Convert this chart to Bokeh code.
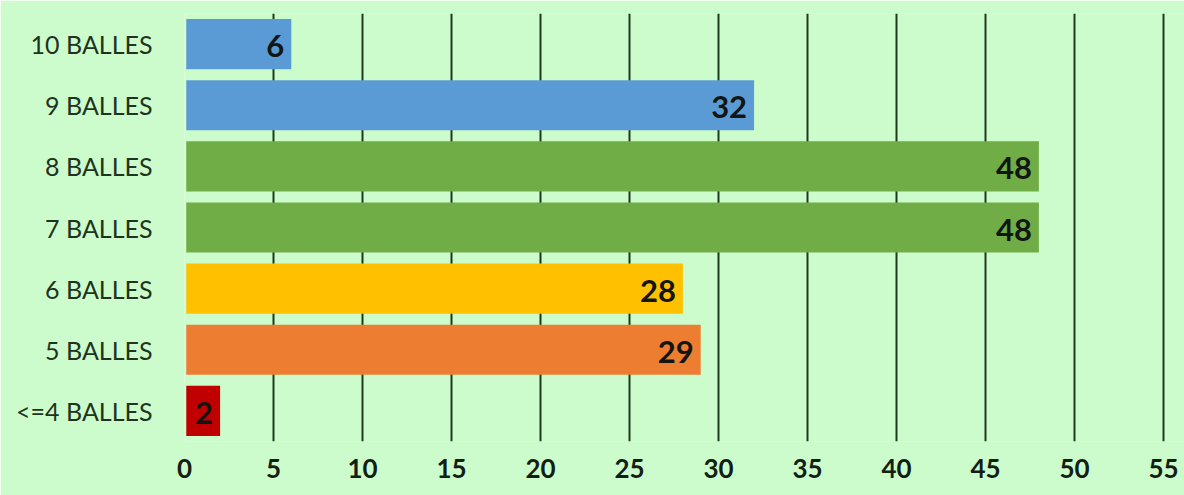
from bokeh.plotting import figure
from bokeh.models import ColumnDataSource, FactorRange, Range1d, FixedTicker
from bokeh.core.properties import value
from bokeh.embed import file_html
from bokeh.resources import INLINE

categories = ["<=4 BALLES", "5 BALLES", "6 BALLES", "7 BALLES", "8 BALLES", "9 BALLES", "10 BALLES"]
counts = [2, 29, 28, 48, 48, 32, 6]
colors = ["#c00000", "#ed7d31", "#ffc000", "#70ad47", "#70ad47", "#5b9bd5", "#5b9bd5"]
x_ticks = [0, 5, 10, 15, 20, 25, 30, 35, 40, 45, 50, 55]

BG = "#ccfccc"
FONT = "Lato"

src = ColumnDataSource(dict(cat=categories, val=counts, color=colors,
                            label=[str(v) for v in counts]))

p = figure(width=1184, height=495, output_backend="svg", toolbar_location=None,
           y_range=FactorRange(*categories, range_padding=0),
           x_range=Range1d(0, 56.18),
           min_border_left=184, min_border_right=0, min_border_top=13, min_border_bottom=54)
p.background_fill_color = BG
p.border_fill_color = BG
p.outline_line_color = None

p.hbar(y="cat", right="val", left=0.1, height=0.82, color="color", line_color=None, source=src)
p.text(x="val", y="cat", text="label", source=src, x_offset=-7, y_offset=2,
       text_align="right", text_baseline="middle",
       text_font=value(FONT), text_font_style="bold", text_font_size="31px",
       text_color="#111611")

p.xgrid.ticker = FixedTicker(ticks=x_ticks)
p.xgrid.grid_line_color = "#1c3a1c"
p.xgrid.grid_line_width = 2
p.ygrid.grid_line_color = None

p.xaxis.ticker = FixedTicker(ticks=x_ticks)
p.xaxis.axis_line_color = None
p.xaxis.major_tick_line_color = None
p.xaxis.minor_tick_line_color = None
p.xaxis.major_label_standoff = 11
p.xaxis.major_label_text_font = FONT
p.xaxis.major_label_text_font_style = "bold"
p.xaxis.major_label_text_font_size = "26px"
p.xaxis.major_label_text_color = "#141f14"

p.yaxis.axis_line_color = None
p.yaxis.major_tick_line_color = None
p.yaxis.minor_tick_line_color = None
p.yaxis.major_label_standoff = 26
p.yaxis.major_label_text_font = FONT
p.yaxis.major_label_text_font_size = "25px"
p.yaxis.major_label_text_color = "#1e3320"

html = file_html(p, INLINE)
html = html.replace("<body>", '<body style="background:%s;margin:0;overflow:hidden">' % BG, 1)
open("out.html", "w").write(html)
